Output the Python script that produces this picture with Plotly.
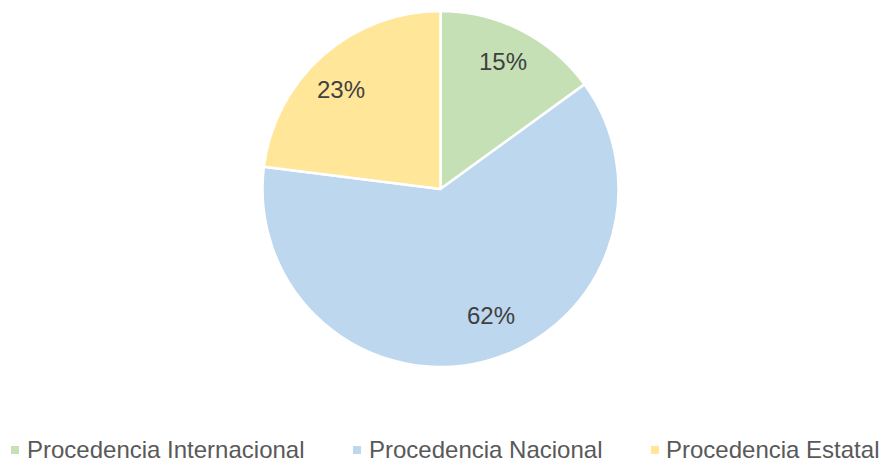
import math
import plotly.graph_objects as go

# Origin of visitors
categories = ["Procedencia Internacional", "Procedencia Nacional", "Procedencia Estatal"]
shares = [15, 62, 23]
colors = ["#C5E0B4", "#BDD7EE", "#FFE699"]

W, H = 881, 460
FONT = "Liberation Sans, Arial, sans-serif"

# Pie geometry in pixels
CX, CY, R = 440, 189, 178

# Data-label placement per slice: fraction of radius and small angular nudge (degrees)
label_radius = [0.80, 0.765, 0.79]
label_turn = [-0.6, -7.4, -3.6]

# Legend entry layout (pixels): swatch left edge and text start
legend_swatch_x = [11, 353, 651]
legend_text_x = [25, 367, 664]
LEGEND_Y = 449
SWATCH = 8

fig = go.Figure(
    go.Pie(
        labels=categories,
        values=shares,
        sort=False,
        direction="clockwise",
        rotation=0,
        marker=dict(colors=colors, line=dict(color="white", width=2.5)),
        textinfo="none",
        hoverinfo="label+percent",
        domain=dict(x=[0, 1], y=[(H - (CY + R)) / H, (H - (CY - R)) / H]),
        showlegend=False,
    )
)

# Percentage labels positioned along each slice's bisector
total = sum(shares)
start = 0.0
annotations = []
for v, rf, turn in zip(shares, label_radius, label_turn):
    mid = start + 360.0 * v / total / 2.0 + turn
    start += 360.0 * v / total
    px = CX + rf * R * math.sin(math.radians(mid))
    py = CY - rf * R * math.cos(math.radians(mid))
    annotations.append(dict(
        x=px / W, y=1 - py / H, xref="paper", yref="paper",
        text=f"{round(100 * v / total)}%", showarrow=False,
        xanchor="center", yanchor="middle",
        font=dict(family=FONT, size=24, color="#404040"),
    ))

# Legend row at the bottom
shapes = []
for name, col, sx, tx in zip(categories, colors, legend_swatch_x, legend_text_x):
    shapes.append(dict(
        type="rect", xref="paper", yref="paper",
        x0=sx / W, x1=(sx + SWATCH) / W,
        y0=1 - (450 + SWATCH / 2) / H, y1=1 - (450 - SWATCH / 2) / H,
        fillcolor=col, line=dict(width=0),
    ))
    annotations.append(dict(
        x=tx / W, y=1 - LEGEND_Y / H, xref="paper", yref="paper",
        text=name, showarrow=False, xanchor="left", yanchor="middle",
        font=dict(family=FONT, size=24, color="#595959"),
    ))

fig.update_layout(
    width=W,
    height=H,
    margin=dict(l=0, r=0, t=0, b=0),
    paper_bgcolor="white",
    plot_bgcolor="white",
    font=dict(family=FONT, size=24, color="#595959"),
    showlegend=False,
    annotations=annotations,
    shapes=shapes,
)

fig.write_html("out.html")
